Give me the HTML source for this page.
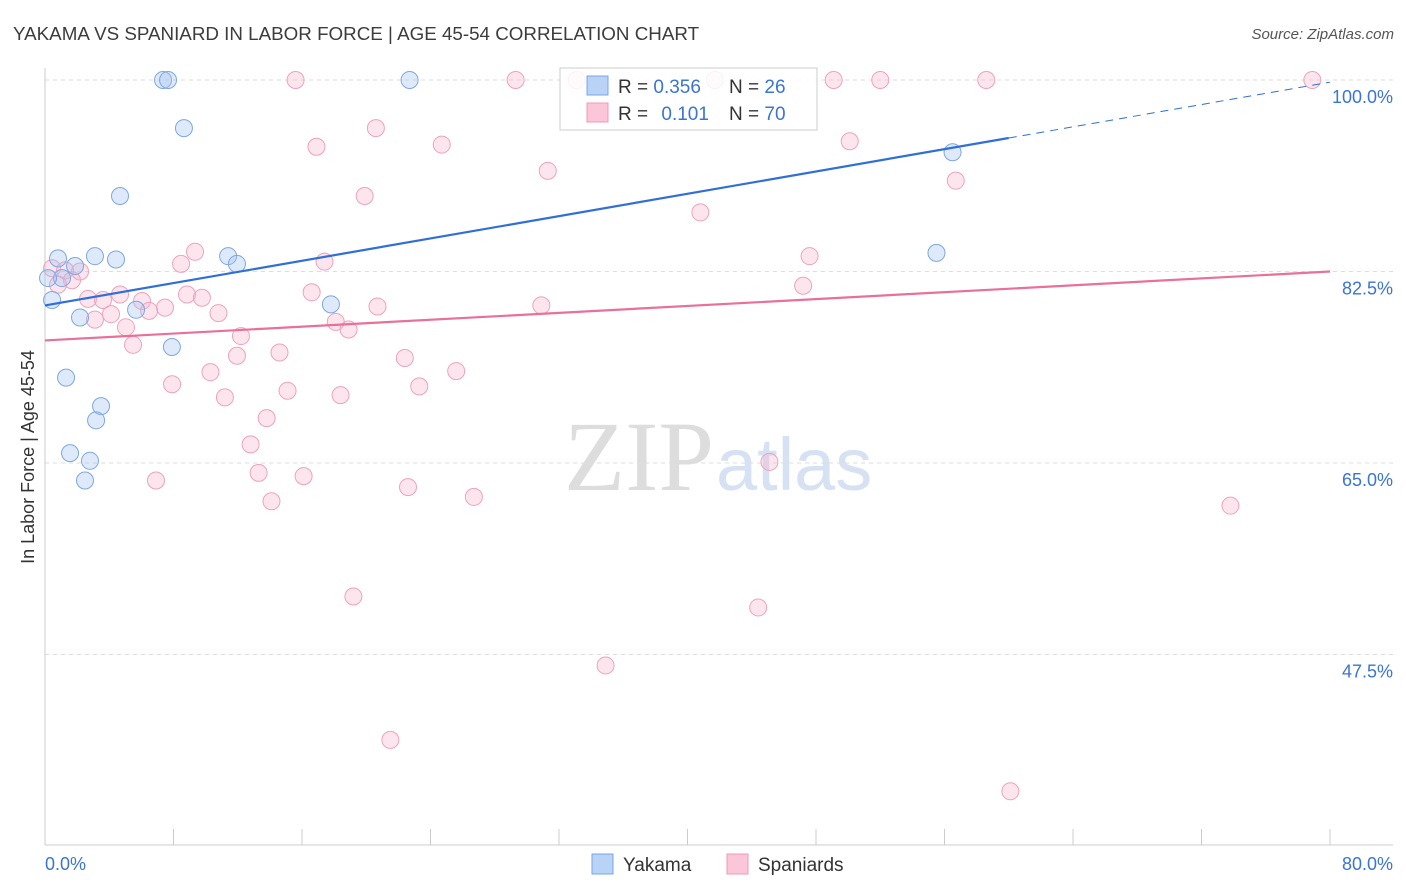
<!DOCTYPE html>
<html><head><meta charset="utf-8"><style>
body{margin:0;background:#fff;font-family:"Liberation Sans",sans-serif;}
svg{display:block}
</style></head><body>
<svg id="chart" width="1406" height="892" xmlns="http://www.w3.org/2000/svg">
<text x="13" y="40" font-size="18.8" fill="#3c3c3c">YAKAMA VS SPANIARD IN LABOR FORCE | AGE 45-54 CORRELATION CHART</text>
<text x="1394" y="39" font-size="15" fill="#555" text-anchor="end" font-style="italic">Source: ZipAtlas.com</text>
<text x="714" y="490" font-size="100" text-anchor="end" fill="#ddd" font-family="Liberation Serif,serif">ZIP</text>
<text x="716" y="490" font-size="74" fill="#d6e2f3">atlas</text>
<text transform="translate(34,457) rotate(-90)" font-size="18" fill="#333" text-anchor="middle">In Labor Force | Age 45-54</text>
<g id="grid"></g><g id="marks"></g>
<g>
<rect x="560" y="68" width="257" height="62" fill="#fff" fill-opacity="0.85" stroke="#ccc"/>
<rect x="587" y="76" width="21" height="19" fill="#b8d3f5" stroke="#7aa6e6"/>
<rect x="587" y="103" width="21" height="19" fill="#fbc6d8" stroke="#ef9ab8"/>
<text x="618" y="93" font-size="19" fill="#333">R = <tspan fill="#3a74d6">0.356</tspan></text>
<text x="729" y="93" font-size="19" fill="#333">N = <tspan fill="#3a74d6">26</tspan></text>
<text x="618" y="120" font-size="19" fill="#333">R = <tspan fill="#3a74d6" dx="8">0.101</tspan></text>
<text x="729" y="120" font-size="19" fill="#333">N = <tspan fill="#3a74d6">70</tspan></text>
</g>
<g>
<rect x="592" y="854" width="21" height="20" fill="#b8d3f5" stroke="#7aa6e6"/>
<text x="623" y="871" font-size="19" fill="#333">Yakama</text>
<rect x="727" y="854" width="21" height="20" fill="#fbc6d8" stroke="#ef9ab8"/>
<text x="758" y="871" font-size="19" fill="#333">Spaniards</text>
</g>
</svg>
<script>
const yakamaX=[7.35,7.66,22.7,8.65,4.67,0.81,3.11,4.42,1.87,1.06,0.19,0.44,2.18,5.67,11.4,11.95,7.9,17.8,1.31,3.49,3.18,1.56,2.8,2.49,56.5,55.5];
const yakamaY=[100,100,100,95.6,89.4,83.7,83.9,83.6,83.0,81.9,81.9,79.9,78.3,79.0,83.9,83.2,75.6,79.5,72.8,70.2,68.9,65.9,65.2,63.4,93.4,84.2];
const spanX=[15.6,29.3,33.1,41.7,49.1,52.0,58.6,78.9,20.6,16.9,24.7,31.3,19.9,50.1,56.7,40.8,9.34,8.47,17.4,47.6,0.44,1.25,2.18,1.68,0.81,2.68,3.61,4.67,6.04,8.84,9.77,16.6,47.2,7.47,6.48,4.11,3.11,10.8,20.7,30.9,5.04,18.1,18.9,5.48,12.2,11.95,14.6,22.4,10.3,25.6,7.91,15.1,23.3,11.2,18.4,13.8,12.8,13.3,6.91,16.1,22.6,26.7,14.1,45.1,73.8,19.2,44.4,34.9,21.5,60.1];
const spanY=[100,100,100,100,100,100,100,100,95.6,93.9,94.1,91.7,89.4,94.4,90.8,87.9,84.3,83.2,83.4,83.9,82.8,82.6,82.5,81.7,81.3,80.0,79.9,80.4,79.8,80.4,80.1,80.6,81.2,79.2,78.9,78.6,78.1,78.7,79.3,79.4,77.4,77.9,77.2,75.8,76.6,74.8,75.1,74.6,73.3,73.4,72.2,71.6,72.0,71.0,71.2,69.1,66.7,64.1,63.4,63.8,62.8,61.9,61.5,65.1,61.1,52.8,51.8,46.5,39.7,35.0];
const yTicks=[100,82.5,65,47.5];
const yTickLabels=["100.0%","82.5%","65.0%","47.5%"];
const trendYakama=[79.4,99.8];
const trendSpan=[76.2,82.5];
const NS="http://www.w3.org/2000/svg";
const xs=v=>45+v/80*1285, ys=v=>80+(100-v)/17.5*191.5;
function mk(t,a,p){const e=document.createElementNS(NS,t);for(const k in a)e.setAttribute(k,a[k]);p.appendChild(e);return e;}
const grid=document.getElementById('grid'), marks=document.getElementById('marks');
yTicks.forEach((v,i)=>{
 const l=mk('line',{x1:45,x2:1393,y1:ys(v),y2:ys(v),stroke:'#ddd','stroke-dasharray':'4,4'},grid);
 
 
 const t=mk('text',{x:1393,y:ys(v)+23,'font-size':18,fill:'#3a74d6','text-anchor':'end'},grid);
 t.textContent=yTickLabels[i];
 
 
});
mk('line',{x1:45,x2:45,y1:68,y2:845,stroke:'#ccc'},grid);
mk('line',{x1:45,x2:1393,y1:845,y2:845,stroke:'#ccc'},grid);
for(let i=1;i<=10;i++){const x=xs(i*8);const tk=mk('line',{x1:x,x2:x,y1:829,y2:845,stroke:'#ccc'},grid);
 
 }
const x0=mk('text',{x:45,y:870,'font-size':18,fill:'#3a74d6'},grid);x0.textContent='0.0%';


const x1=mk('text',{x:1393,y:870,'font-size':18,fill:'#3a74d6','text-anchor':'end'},grid);x1.textContent='80.0%';


spanX.forEach((v,i)=>{const c=mk('circle',{cx:xs(v),cy:ys(spanY[i]),r:8.5,fill:'rgba(248,180,205,0.35)',stroke:'#efa2bd','stroke-width':1},marks);
 
 });
yakamaX.forEach((v,i)=>{const c=mk('circle',{cx:xs(v),cy:ys(yakamaY[i]),r:8.5,fill:'rgba(160,195,240,0.35)',stroke:'#7ea7e3','stroke-width':1},marks);
 
 });
const yk=x=>trendYakama[0]+(trendYakama[1]-trendYakama[0])*x/80;
const tb=mk('line',{x1:xs(0),y1:ys(yk(0)),x2:xs(60),y2:ys(yk(60)),stroke:'#2f6fd6','stroke-width':2.2},marks);


const tbd=mk('line',{x1:xs(60),y1:ys(yk(60)),x2:xs(80),y2:ys(yk(80)),stroke:'#2f6fd6','stroke-width':1,'stroke-dasharray':'8,6'},marks);


const tp=mk('line',{x1:xs(0),y1:ys(trendSpan[0]),x2:xs(80),y2:ys(trendSpan[1]),stroke:'#e8709a','stroke-width':2.2},marks);


</script>
</body></html>
